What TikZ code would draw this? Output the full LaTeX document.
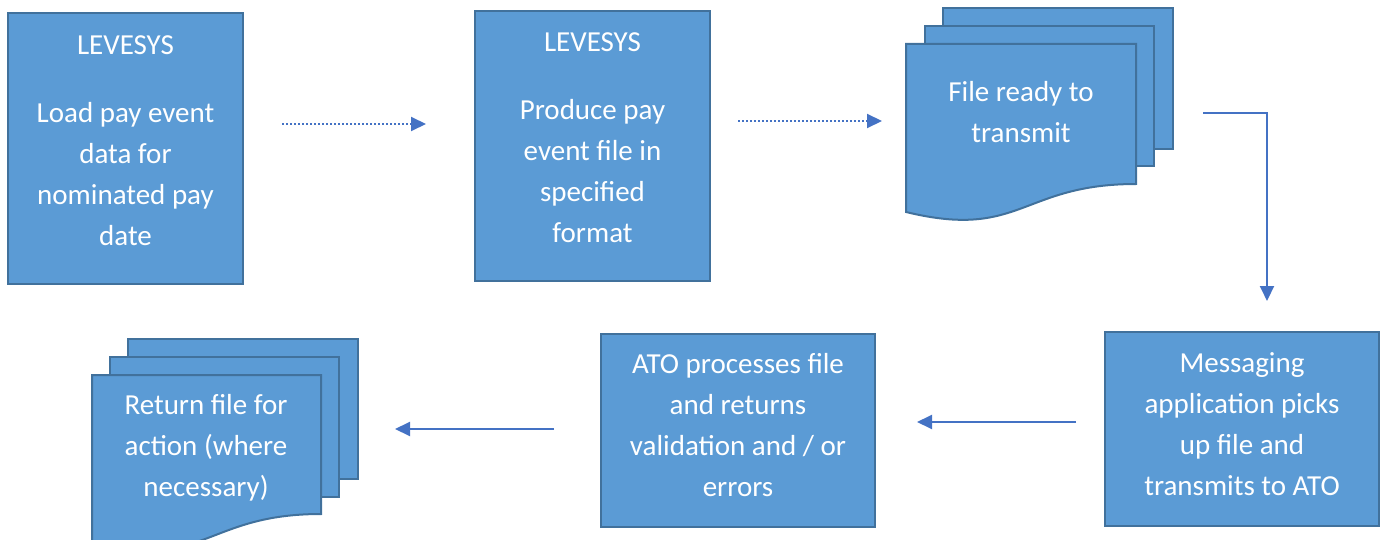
\documentclass[tikz,border=0pt]{standalone}
\usepackage{fontspec}
\setmainfont{Carlito}
\usetikzlibrary{arrows.meta}
\definecolor{boxfill}{HTML}{5B9BD5}
\definecolor{boxline}{HTML}{41719C}
\definecolor{arrowblue}{HTML}{4472C4}

\begin{document}
\begin{tikzpicture}[x=0.5pt,y=-0.5pt]
\tikzset{procbox/.style = {rectangle,draw=boxline,fill=boxfill,line width=1pt}}
\tikzset{page/.style = {draw=boxline,fill=boxfill,line width=1pt}}
\tikzset{boxtext/.style = {text=white,align=center,font=\fontsize{14.5}{20.5}\selectfont}}
\tikzset{flow/.style = {draw=arrowblue,line width=1pt,-{Triangle[length=7.5pt,width=7pt]}}}
\tikzset{dotflow/.style = {flow,dash pattern=on 1pt off 1pt}}

\useasboundingbox (0,0) rectangle (1386,540);

\node[procbox, minimum width=117.5pt, minimum height=135.5pt] (load) at (125.5,148.5) {};
\node[boxtext] (loadtext) at ([yshift=4pt]load.center) {LEVESYS\\[13.5pt]Load pay event\\data for\\nominated pay\\date};
\node[procbox, minimum width=117.5pt, minimum height=135pt] (produce) at (592.5,146) {};
\node[boxtext] (producetext) at ([yshift=4pt]produce.center) {LEVESYS\\[13.5pt]Produce pay\\event file in\\specified\\format};
\node[procbox, minimum width=137pt, minimum height=97pt] (msg) at (1242,429) {};
\node[boxtext] (msgtext) at ([yshift=2.5pt]msg.center) {Messaging\\application picks\\up file and\\transmits to ATO};
\node[procbox, minimum width=137pt, minimum height=96.5pt] (ato) at (738,430.5) {};
\node[boxtext] (atotext) at ([yshift=2.5pt]ato.center) {ATO processes file\\and returns\\validation and / or\\errors};

\draw[page] (943,8) rectangle (1173,149);
\draw[page] (925,26) rectangle (1154,166);
\draw[page] (906,44) -- (1136,44) -- (1136,184) .. controls (1021,184) and (1021,240) .. (906,212) -- cycle;
\node[boxtext] (ready) at (1021,112) {File ready to\\transmit};

\draw[page] (128,339) rectangle (358,479);
\draw[page] (110,357) rectangle (339,497);
\draw[page] (92,375) -- (321,375) -- (321,514) .. controls (206,514) and (206,570) .. (92,543) -- cycle;
\node[boxtext] (return) at (206,448) {Return file for\\action (where\\necessary)};

\coordinate (d1a) at (282,124);
\coordinate (d1b) at (426,124);
\coordinate (d2a) at (738,121);
\coordinate (d2b) at (882,121);
\coordinate (t1) at (1203,113);
\coordinate (t2) at (1267,301);
\coordinate (m1) at (1076,422);
\coordinate (m2) at (917,422);
\coordinate (r1) at (554,429);
\coordinate (r2) at (395,429);

\draw[dotflow] (d1a) -- (d1b);
\draw[dotflow] (d2a) -- (d2b);
\draw[flow] (t1) -| (t2);
\draw[flow] (m1) -- (m2);
\draw[flow] (r1) -- (r2);
\end{tikzpicture}
\end{document}
